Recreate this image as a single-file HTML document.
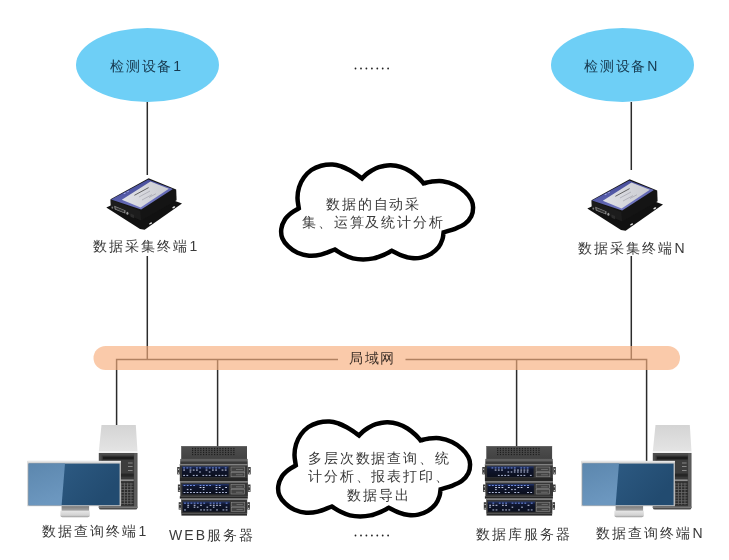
<!DOCTYPE html>
<html><head><meta charset="utf-8">
<style>
html,body{margin:0;padding:0;background:#fff;}
body{width:729px;height:560px;position:relative;overflow:hidden;font-family:"Liberation Sans",sans-serif;}
svg{position:absolute;left:0;top:0;}
.t{position:absolute;font-size:14px;line-height:14px;color:#3a3a3a;letter-spacing:1.6px;white-space:nowrap;will-change:transform;}
.c{letter-spacing:1.85px;}
</style></head>
<body>
<svg width="729" height="560" viewBox="0 0 729 560">
<defs>
<linearGradient id="tgTop" x1="0" y1="0" x2="0.6" y2="1"><stop offset="0" stop-color="#3b4190"/><stop offset="0.5" stop-color="#555ba8"/><stop offset="1" stop-color="#7a80c8"/></linearGradient>
<linearGradient id="tgLbl" x1="0" y1="0" x2="1" y2="0"><stop offset="0" stop-color="#e0e1e6"/><stop offset="1" stop-color="#cacbd1"/></linearGradient>
<linearGradient id="pcTop" x1="0" y1="0" x2="0" y2="1"><stop offset="0" stop-color="#d4d4d4"/><stop offset="1" stop-color="#e4e4e4"/></linearGradient>
<linearGradient id="scrR" x1="0" y1="0" x2="1" y2="0.4"><stop offset="0" stop-color="#31608a"/><stop offset="1" stop-color="#224b70"/></linearGradient>
<linearGradient id="scrL" x1="0" y1="0" x2="0.3" y2="1"><stop offset="0" stop-color="#5c87ae"/><stop offset="1" stop-color="#6c97bf"/></linearGradient>
<linearGradient id="neck" x1="0" y1="0" x2="0" y2="1"><stop offset="0" stop-color="#7a7a7a"/><stop offset="1" stop-color="#a8a8a8"/></linearGradient>
<linearGradient id="base" x1="0" y1="0" x2="0" y2="1"><stop offset="0" stop-color="#e6e6e6"/><stop offset="0.7" stop-color="#d2d2d2"/><stop offset="1" stop-color="#9a9a9a"/></linearGradient>
<linearGradient id="srvTop" x1="0" y1="0" x2="0" y2="1"><stop offset="0" stop-color="#4e4e4e"/><stop offset="1" stop-color="#424242"/></linearGradient>
<linearGradient id="disp" x1="0" y1="0" x2="0" y2="1"><stop offset="0" stop-color="#22356e"/><stop offset="0.25" stop-color="#0f1630"/><stop offset="1" stop-color="#0b0f1c"/></linearGradient>
<g id="vent" fill="#1e1e1e"><rect x="192" y="447.9" width="1.2" height="1.2"/><rect x="194.75" y="447.9" width="1.2" height="1.2"/><rect x="197.5" y="447.9" width="1.2" height="1.2"/><rect x="200.25" y="447.9" width="1.2" height="1.2"/><rect x="203" y="447.9" width="1.2" height="1.2"/><rect x="205.75" y="447.9" width="1.2" height="1.2"/><rect x="208.5" y="447.9" width="1.2" height="1.2"/><rect x="211.25" y="447.9" width="1.2" height="1.2"/><rect x="214" y="447.9" width="1.2" height="1.2"/><rect x="216.75" y="447.9" width="1.2" height="1.2"/><rect x="219.5" y="447.9" width="1.2" height="1.2"/><rect x="222.25" y="447.9" width="1.2" height="1.2"/><rect x="225" y="447.9" width="1.2" height="1.2"/><rect x="227.75" y="447.9" width="1.2" height="1.2"/><rect x="230.5" y="447.9" width="1.2" height="1.2"/><rect x="233.25" y="447.9" width="1.2" height="1.2"/><rect x="192" y="449.8" width="1.2" height="1.2"/><rect x="194.75" y="449.8" width="1.2" height="1.2"/><rect x="197.5" y="449.8" width="1.2" height="1.2"/><rect x="200.25" y="449.8" width="1.2" height="1.2"/><rect x="203" y="449.8" width="1.2" height="1.2"/><rect x="205.75" y="449.8" width="1.2" height="1.2"/><rect x="208.5" y="449.8" width="1.2" height="1.2"/><rect x="211.25" y="449.8" width="1.2" height="1.2"/><rect x="214" y="449.8" width="1.2" height="1.2"/><rect x="216.75" y="449.8" width="1.2" height="1.2"/><rect x="219.5" y="449.8" width="1.2" height="1.2"/><rect x="222.25" y="449.8" width="1.2" height="1.2"/><rect x="225" y="449.8" width="1.2" height="1.2"/><rect x="227.75" y="449.8" width="1.2" height="1.2"/><rect x="230.5" y="449.8" width="1.2" height="1.2"/><rect x="233.25" y="449.8" width="1.2" height="1.2"/><rect x="192" y="451.8" width="1.2" height="1.2"/><rect x="194.75" y="451.8" width="1.2" height="1.2"/><rect x="197.5" y="451.8" width="1.2" height="1.2"/><rect x="200.25" y="451.8" width="1.2" height="1.2"/><rect x="203" y="451.8" width="1.2" height="1.2"/><rect x="205.75" y="451.8" width="1.2" height="1.2"/><rect x="208.5" y="451.8" width="1.2" height="1.2"/><rect x="211.25" y="451.8" width="1.2" height="1.2"/><rect x="214" y="451.8" width="1.2" height="1.2"/><rect x="216.75" y="451.8" width="1.2" height="1.2"/><rect x="219.5" y="451.8" width="1.2" height="1.2"/><rect x="222.25" y="451.8" width="1.2" height="1.2"/><rect x="225" y="451.8" width="1.2" height="1.2"/><rect x="227.75" y="451.8" width="1.2" height="1.2"/><rect x="230.5" y="451.8" width="1.2" height="1.2"/><rect x="233.25" y="451.8" width="1.2" height="1.2"/><rect x="192" y="453.9" width="1.2" height="1.2"/><rect x="194.75" y="453.9" width="1.2" height="1.2"/><rect x="197.5" y="453.9" width="1.2" height="1.2"/><rect x="200.25" y="453.9" width="1.2" height="1.2"/><rect x="203" y="453.9" width="1.2" height="1.2"/><rect x="205.75" y="453.9" width="1.2" height="1.2"/><rect x="208.5" y="453.9" width="1.2" height="1.2"/><rect x="211.25" y="453.9" width="1.2" height="1.2"/><rect x="214" y="453.9" width="1.2" height="1.2"/><rect x="216.75" y="453.9" width="1.2" height="1.2"/><rect x="219.5" y="453.9" width="1.2" height="1.2"/><rect x="222.25" y="453.9" width="1.2" height="1.2"/><rect x="225" y="453.9" width="1.2" height="1.2"/><rect x="227.75" y="453.9" width="1.2" height="1.2"/><rect x="230.5" y="453.9" width="1.2" height="1.2"/><rect x="233.25" y="453.9" width="1.2" height="1.2"/></g>
<g id="term"><polygon points="106.3,207.6 145,190 182,203.4 144.6,229.8 140,229" fill="#111" /><polygon points="110.5,199.2 148.6,178.2 176.2,189.4 176.6,200.2 141.2,220.6 110.9,207.6" fill="#141414" /><polygon points="110.8,199.7 140.2,210.9 141.2,220.6 110.9,207.6" fill="#1c1c1c" /><polygon points="111,199.4 148.2,179.5 172.9,189.1 141.2,209.6" fill="url(#tgTop)" /><polygon points="150.5,181.4 168.9,188.8 140.6,207.4 121.8,199.7" fill="url(#tgLbl)" /><g stroke="#555" stroke-width="0.9"><line x1="134.4" y1="195.3" x2="148.6" y2="187.6"/></g><g stroke="#9a9aa4" stroke-width="0.6"><line x1="139" y1="197" x2="150" y2="191"/><line x1="142" y1="200" x2="152" y2="194.6"/><line x1="149" y1="197.5" x2="156" y2="193.7"/></g><g fill="#b0b6ee"><rect x="123.5" y="193.6" width="2.2" height="0.8" transform="rotate(-28 123.5 193.6)"/><rect x="126.6" y="191.9" width="2.2" height="0.8" transform="rotate(-28 126.6 191.9)"/></g><polygon points="114.2,205.8 125.6,210.4 125.2,213.6 114.8,209.4" fill="#8a8a8a" /><polygon points="115.4,206.9 124.4,210.6 124.1,212.6 115.7,209" fill="#333" /><ellipse cx="127.4" cy="213.2" rx="1" ry="1.5" fill="#9a9a9a"/><ellipse cx="112.3" cy="207.6" rx="0.8" ry="1.2" fill="#777"/><polygon points="130.5,213.6 134,215 134,218.2 130.5,216.8" fill="#2c2c2c" /><ellipse cx="173.8" cy="207.3" rx="1.6" ry="0.8" fill="#e8e8e8" transform="rotate(-28 173.8 207.3)"/><ellipse cx="150.6" cy="223.4" rx="1.6" ry="0.8" fill="#e8e8e8" transform="rotate(-28 150.6 223.4)"/></g>
<g id="pc"><polygon points="101.5,425 135.8,425 137.5,451.6 98.8,451.6" fill="url(#pcTop)" /><rect x="98.8" y="451.4" width="38.7" height="1.8" fill="#f2f2f2"/><path d="M98.8 453.1 H137.5 V507.6 Q137.5 509.6 135.5 509.6 H100.8 Q98.8 509.6 98.8 507.6 Z" fill="#4c4c4c"/><rect x="98.8" y="506.4" width="38.7" height="1.6" fill="#777"/><rect x="101.6" y="455.4" width="32.4" height="50.8" fill="#393939"/><rect x="134.2" y="453.1" width="2.6" height="53" fill="#5e5e5e"/><rect x="102.9" y="456.6" width="30.8" height="2.8" fill="#1c1c1c"/><rect x="102.9" y="460" width="30.8" height="13.5" fill="#3d3d3d"/><g fill="#9a9a9a"><rect x="128" y="462.6" width="4.6" height="0.8"/><rect x="128" y="466" width="4.6" height="0.8"/><rect x="128" y="470" width="4.6" height="0.8"/></g><rect x="102.9" y="473.7" width="30.8" height="2.9" fill="#262626"/><rect x="102.9" y="479.4" width="30.8" height="1.6" fill="#8e8e8e"/><rect x="119.6" y="482.3" width="14.1" height="22.8" fill="#2c2c2c"/><g fill="#686868"><rect x="120.6" y="482.8" width="0.9" height="21.8"/><rect x="123.9" y="482.8" width="0.9" height="21.8"/><rect x="127.2" y="482.8" width="0.9" height="21.8"/><rect x="130.5" y="482.8" width="0.9" height="21.8"/><rect x="120" y="483.6" width="13.4" height="0.8"/><rect x="120" y="486.4" width="13.4" height="0.8"/><rect x="120" y="489.2" width="13.4" height="0.8"/><rect x="120" y="492" width="13.4" height="0.8"/><rect x="120" y="494.8" width="13.4" height="0.8"/><rect x="120" y="497.6" width="13.4" height="0.8"/><rect x="120" y="500.4" width="13.4" height="0.8"/><rect x="120" y="503.2" width="13.4" height="0.8"/></g><rect x="27.4" y="460.9" width="93.5" height="45.3" fill="#c4c4c4"/><rect x="27.4" y="460.9" width="93.5" height="1.6" fill="#e6e6e6"/><rect x="28.6" y="463.6" width="91" height="41.6" fill="url(#scrR)"/><polygon points="28.6,463.6 65,463.6 61.6,505.2 28.6,505.2" fill="url(#scrL)" /><rect x="61.6" y="506.1" width="27.5" height="4.8" fill="url(#neck)"/><path d="M60.4 510.8 H89.8 V515.2 Q89.8 517.2 87.8 517.2 H62.4 Q60.4 517.2 60.4 515.2 Z" fill="url(#base)"/></g>
<path id="cloud" d="M298.8 208.3 C298.37 204.83 297.45 201.43 297.5 197.9 C297.55 194.37 298.03 190.5 299.1 187.1 C300.17 183.7 301.85 180.35 303.9 177.5 C305.95 174.65 308.53 171.97 311.4 170 C314.27 168.03 317.58 166.62 321.1 165.7 C324.62 164.78 329.1 164.37 332.5 164.5 C335.9 164.63 338.63 165.55 341.5 166.5 C344.37 167.45 347.23 168.9 349.7 170.2 C352.17 171.5 354.25 172.92 356.3 174.3 C358.35 175.68 360.1 177.1 362 178.5 C363.93 176.7 365.47 174.82 367.8 173.1 C370.13 171.38 373.47 169.35 376 168.2 C378.53 167.05 380.55 166.68 383 166.2 C385.45 165.72 387.77 165.18 390.7 165.3 C393.63 165.42 397.3 165.87 400.6 166.9 C403.9 167.93 407.48 169.65 410.5 171.5 C413.52 173.35 416.52 176.02 418.7 178 C420.88 179.98 421.97 181.6 423.6 183.4 C426.07 182.83 427.85 182.05 431 181.7 C434.15 181.35 438.5 180.75 442.5 181.3 C446.5 181.85 451.25 183.23 455 185 C458.75 186.77 462.28 189.4 465 191.9 C467.72 194.4 469.95 197.4 471.3 200 C472.65 202.6 473.1 204.78 473.1 207.5 C473.1 210.22 472.65 213.58 471.3 216.3 C469.95 219.02 467.72 221.72 465 223.8 C462.28 225.88 458.57 227.38 455 228.8 C451.43 230.22 447.4 231.13 443.6 232.3 C443.2 234.67 443.23 236.93 442.4 239.4 C441.57 241.87 440.52 244.7 438.6 247.1 C436.68 249.5 433.78 252.05 430.9 253.8 C428.02 255.55 424.5 256.88 421.3 257.6 C418.1 258.32 414.9 258.42 411.7 258.1 C408.5 257.78 405.42 256.92 402.1 255.7 C398.78 254.48 395.23 252.43 391.8 250.8 C389.13 252.13 386.85 253.53 383.8 254.8 C380.75 256.07 376.93 257.62 373.5 258.4 C370.07 259.18 366.63 259.5 363.2 259.5 C359.77 259.5 356.15 259.18 352.9 258.4 C349.65 257.62 346.72 256.28 343.7 254.8 C340.68 253.32 337.77 251.27 334.8 249.5 C330.13 251.2 325.08 253.57 320.8 254.6 C316.52 255.63 312.98 256 309.1 255.7 C305.22 255.4 300.97 254.35 297.5 252.8 C294.03 251.25 290.82 248.82 288.3 246.4 C285.78 243.98 283.57 241.2 282.4 238.3 C281.23 235.4 280.9 232.1 281.3 229 C281.7 225.9 283.07 222.4 284.8 219.7 C286.53 217 289.37 214.7 291.7 212.8 C294.03 210.9 296.43 209.8 298.8 208.3Z" fill="#fff" stroke="#000" stroke-width="4.5" stroke-linejoin="miter"/>
</defs>

<ellipse cx="147.5" cy="65" rx="71.5" ry="37" fill="#6ecff6"/>
<ellipse cx="622.5" cy="65" rx="71.5" ry="37" fill="#6ecff6"/>

<g stroke="#2b2b2b" stroke-width="1.5" fill="none">
<line x1="147.3" y1="102" x2="147.3" y2="175"/>
<line x1="147.3" y1="256" x2="147.3" y2="360"/>
<line x1="631.3" y1="102" x2="631.3" y2="170"/>
<line x1="631.3" y1="256" x2="631.3" y2="360"/>
<polyline points="116.6,425 116.6,359.5 338,359.5"/>
<polyline points="405.5,359.5 646.6,359.5 646.6,462"/>
<line x1="217.6" y1="359.5" x2="217.6" y2="447"/>
<line x1="516.6" y1="359.5" x2="516.6" y2="447"/>
</g>
<rect x="93.5" y="346" width="586.5" height="24" rx="12" ry="12" fill="#f7af7e" fill-opacity="0.66"/>

<use href="#cloud"/>
<use href="#cloud" transform="translate(-3,257)"/>

<use href="#term"/>
<use href="#term" transform="translate(481,1)"/>
<use href="#pc"/>
<use href="#pc" transform="translate(554,0)"/>
<g transform="translate(0,0)"><rect x="181.2" y="446.2" width="65.8" height="12.8" fill="url(#srvTop)"/><rect x="181.2" y="446.2" width="65.8" height="0.8" fill="#636363"/><use href="#vent"/><rect x="180.2" y="458.9" width="67.5" height="2.2" fill="#626262"/><rect x="180.2" y="461.1" width="67.5" height="3.1" fill="#3a3a3a"/><rect x="177.2" y="467" width="2.6" height="7.4" fill="#3a3a3a"/><rect x="248.1" y="467" width="2.6" height="7.4" fill="#3a3a3a"/><rect x="178" y="468.7" width="1.1" height="1.1" fill="#e8e8e8"/><rect x="248.9" y="468.7" width="1.1" height="1.1" fill="#e8e8e8"/><rect x="178" y="472.6" width="1.1" height="1.1" fill="#e8e8e8"/><rect x="248.9" y="472.6" width="1.1" height="1.1" fill="#e8e8e8"/><rect x="179.8" y="464.1" width="68" height="13.9" fill="#363636"/><rect x="179.8" y="464.1" width="68" height="1.3" fill="#888"/><rect x="182" y="466.4" width="46.5" height="10.8" fill="url(#disp)"/><rect x="183.2" y="467.5" width="1.8" height="0.9" fill="#7d9cf5"/><rect x="183.2" y="469.6" width="1.8" height="0.9" fill="#e4eaff"/><rect x="183.2" y="474.9" width="1.8" height="0.9" fill="#c8d2f2"/><rect x="186.4" y="467.5" width="1.8" height="0.9" fill="#7d9cf5"/><rect x="186.4" y="474.9" width="1.8" height="0.9" fill="#c8d2f2"/><rect x="189.6" y="467.5" width="1.8" height="0.9" fill="#7d9cf5"/><rect x="189.6" y="469.6" width="1.8" height="0.9" fill="#e4eaff"/><rect x="189.6" y="471.4" width="1.6" height="1.2" fill="#aab4d0"/><rect x="192.8" y="469.6" width="1.8" height="0.9" fill="#e4eaff"/><rect x="192.8" y="474.9" width="1.8" height="0.9" fill="#c8d2f2"/><rect x="196" y="467.5" width="1.8" height="0.9" fill="#7d9cf5"/><rect x="196" y="469.6" width="1.8" height="0.9" fill="#e4eaff"/><rect x="196" y="474.9" width="1.8" height="0.9" fill="#c8d2f2"/><rect x="199.2" y="467.5" width="1.8" height="0.9" fill="#7d9cf5"/><rect x="199.2" y="471.4" width="1.6" height="1.2" fill="#aab4d0"/><rect x="202.4" y="474.9" width="1.8" height="0.9" fill="#c8d2f2"/><rect x="205.6" y="467.5" width="1.8" height="0.9" fill="#7d9cf5"/><rect x="205.6" y="469.6" width="1.8" height="0.9" fill="#e4eaff"/><rect x="205.6" y="474.9" width="1.8" height="0.9" fill="#c8d2f2"/><rect x="208.8" y="467.5" width="1.8" height="0.9" fill="#7d9cf5"/><rect x="208.8" y="471.4" width="1.6" height="1.2" fill="#aab4d0"/><rect x="208.8" y="474.9" width="1.8" height="0.9" fill="#c8d2f2"/><rect x="212" y="467.5" width="1.8" height="0.9" fill="#7d9cf5"/><rect x="212" y="469.6" width="1.8" height="0.9" fill="#e4eaff"/><rect x="215.2" y="467.5" width="1.8" height="0.9" fill="#7d9cf5"/><rect x="215.2" y="469.6" width="1.8" height="0.9" fill="#e4eaff"/><rect x="215.2" y="474.9" width="1.8" height="0.9" fill="#c8d2f2"/><rect x="218.4" y="467.5" width="1.8" height="0.9" fill="#7d9cf5"/><rect x="218.4" y="474.9" width="1.8" height="0.9" fill="#c8d2f2"/><rect x="221.6" y="469.6" width="1.8" height="0.9" fill="#e4eaff"/><rect x="221.6" y="474.9" width="1.8" height="0.9" fill="#c8d2f2"/><rect x="224.8" y="467.5" width="1.8" height="0.9" fill="#7d9cf5"/><rect x="224.8" y="469.6" width="1.8" height="0.9" fill="#e4eaff"/><rect x="224.8" y="474.9" width="1.8" height="0.9" fill="#c8d2f2"/><rect x="231" y="467" width="13.8" height="4.3" fill="#444" stroke="#999" stroke-width="0.5"/><rect x="236" y="469.15" width="6.8" height="0.6" fill="#888"/><rect x="231" y="472.3" width="13.8" height="4.5" fill="#444" stroke="#999" stroke-width="0.5"/><rect x="236" y="474.55" width="6.8" height="0.6" fill="#888"/><rect x="179.8" y="478" width="68" height="3.3" fill="#262626"/><rect x="177.9" y="484.5" width="2.6" height="7.4" fill="#3a3a3a"/><rect x="247.9" y="484.5" width="2.6" height="7.4" fill="#3a3a3a"/><rect x="178.7" y="486.2" width="1.1" height="1.1" fill="#e8e8e8"/><rect x="248.7" y="486.2" width="1.1" height="1.1" fill="#e8e8e8"/><rect x="178.7" y="490.1" width="1.1" height="1.1" fill="#e8e8e8"/><rect x="248.7" y="490.1" width="1.1" height="1.1" fill="#e8e8e8"/><rect x="180.3" y="481.3" width="67.6" height="14.9" fill="#363636"/><rect x="180.3" y="481.3" width="67.6" height="1.3" fill="#888"/><rect x="182.4" y="483.9" width="46.4" height="10.5" fill="url(#disp)"/><rect x="183.6" y="485" width="1.8" height="0.9" fill="#7d9cf5"/><rect x="183.6" y="492.1" width="1.8" height="0.9" fill="#c8d2f2"/><rect x="186.8" y="485" width="1.8" height="0.9" fill="#7d9cf5"/><rect x="186.8" y="488.9" width="1.6" height="1.2" fill="#aab4d0"/><rect x="186.8" y="492.1" width="1.8" height="0.9" fill="#c8d2f2"/><rect x="190" y="485" width="1.8" height="0.9" fill="#7d9cf5"/><rect x="190" y="488.9" width="1.6" height="1.2" fill="#aab4d0"/><rect x="190" y="492.1" width="1.8" height="0.9" fill="#c8d2f2"/><rect x="193.2" y="485" width="1.8" height="0.9" fill="#7d9cf5"/><rect x="193.2" y="492.1" width="1.8" height="0.9" fill="#c8d2f2"/><rect x="196.4" y="492.1" width="1.8" height="0.9" fill="#c8d2f2"/><rect x="199.6" y="485" width="1.8" height="0.9" fill="#7d9cf5"/><rect x="199.6" y="487.1" width="1.8" height="0.9" fill="#e4eaff"/><rect x="199.6" y="492.1" width="1.8" height="0.9" fill="#c8d2f2"/><rect x="202.8" y="485" width="1.8" height="0.9" fill="#7d9cf5"/><rect x="202.8" y="487.1" width="1.8" height="0.9" fill="#e4eaff"/><rect x="202.8" y="488.9" width="1.6" height="1.2" fill="#aab4d0"/><rect x="202.8" y="492.1" width="1.8" height="0.9" fill="#c8d2f2"/><rect x="206" y="485" width="1.8" height="0.9" fill="#7d9cf5"/><rect x="206" y="492.1" width="1.8" height="0.9" fill="#c8d2f2"/><rect x="209.2" y="485" width="1.8" height="0.9" fill="#7d9cf5"/><rect x="209.2" y="492.1" width="1.8" height="0.9" fill="#c8d2f2"/><rect x="215.6" y="485" width="1.8" height="0.9" fill="#7d9cf5"/><rect x="215.6" y="487.1" width="1.8" height="0.9" fill="#e4eaff"/><rect x="215.6" y="488.9" width="1.6" height="1.2" fill="#aab4d0"/><rect x="215.6" y="492.1" width="1.8" height="0.9" fill="#c8d2f2"/><rect x="218.8" y="485" width="1.8" height="0.9" fill="#7d9cf5"/><rect x="218.8" y="487.1" width="1.8" height="0.9" fill="#e4eaff"/><rect x="218.8" y="492.1" width="1.8" height="0.9" fill="#c8d2f2"/><rect x="222" y="488.9" width="1.6" height="1.2" fill="#aab4d0"/><rect x="222" y="492.1" width="1.8" height="0.9" fill="#c8d2f2"/><rect x="225.2" y="487.1" width="1.8" height="0.9" fill="#e4eaff"/><rect x="225.2" y="492.1" width="1.8" height="0.9" fill="#c8d2f2"/><rect x="231" y="484.5" width="13.6" height="4.15" fill="#444" stroke="#999" stroke-width="0.5"/><rect x="236" y="486.57" width="6.6" height="0.6" fill="#888"/><rect x="231" y="489.65" width="13.6" height="4.35" fill="#444" stroke="#999" stroke-width="0.5"/><rect x="236" y="491.82" width="6.6" height="0.6" fill="#888"/><rect x="179.8" y="496.2" width="68" height="2.4" fill="#262626"/><rect x="178.7" y="502.2" width="2.6" height="7.4" fill="#3a3a3a"/><rect x="247.3" y="502.2" width="2.6" height="7.4" fill="#3a3a3a"/><rect x="179.5" y="503.9" width="1.1" height="1.1" fill="#e8e8e8"/><rect x="248.1" y="503.9" width="1.1" height="1.1" fill="#e8e8e8"/><rect x="179.5" y="507.8" width="1.1" height="1.1" fill="#e8e8e8"/><rect x="248.1" y="507.8" width="1.1" height="1.1" fill="#e8e8e8"/><rect x="181.2" y="498.6" width="66" height="15.2" fill="#363636"/><rect x="181.2" y="498.6" width="66" height="1.3" fill="#888"/><rect x="182.9" y="501.6" width="47" height="10.2" fill="url(#disp)"/><rect x="184.1" y="502.7" width="1.8" height="0.9" fill="#7d9cf5"/><rect x="184.1" y="509.5" width="1.8" height="0.9" fill="#c8d2f2"/><rect x="187.3" y="502.7" width="1.8" height="0.9" fill="#7d9cf5"/><rect x="187.3" y="504.8" width="1.8" height="0.9" fill="#e4eaff"/><rect x="187.3" y="506.6" width="1.6" height="1.2" fill="#aab4d0"/><rect x="190.5" y="502.7" width="1.8" height="0.9" fill="#7d9cf5"/><rect x="193.7" y="502.7" width="1.8" height="0.9" fill="#7d9cf5"/><rect x="193.7" y="504.8" width="1.8" height="0.9" fill="#e4eaff"/><rect x="193.7" y="506.6" width="1.6" height="1.2" fill="#aab4d0"/><rect x="196.9" y="502.7" width="1.8" height="0.9" fill="#7d9cf5"/><rect x="196.9" y="506.6" width="1.6" height="1.2" fill="#aab4d0"/><rect x="200.1" y="502.7" width="1.8" height="0.9" fill="#7d9cf5"/><rect x="200.1" y="504.8" width="1.8" height="0.9" fill="#e4eaff"/><rect x="200.1" y="509.5" width="1.8" height="0.9" fill="#c8d2f2"/><rect x="203.3" y="502.7" width="1.8" height="0.9" fill="#7d9cf5"/><rect x="203.3" y="509.5" width="1.8" height="0.9" fill="#c8d2f2"/><rect x="206.5" y="506.6" width="1.6" height="1.2" fill="#aab4d0"/><rect x="206.5" y="509.5" width="1.8" height="0.9" fill="#c8d2f2"/><rect x="209.7" y="502.7" width="1.8" height="0.9" fill="#7d9cf5"/><rect x="209.7" y="504.8" width="1.8" height="0.9" fill="#e4eaff"/><rect x="209.7" y="509.5" width="1.8" height="0.9" fill="#c8d2f2"/><rect x="212.9" y="502.7" width="1.8" height="0.9" fill="#7d9cf5"/><rect x="212.9" y="504.8" width="1.8" height="0.9" fill="#e4eaff"/><rect x="212.9" y="506.6" width="1.6" height="1.2" fill="#aab4d0"/><rect x="216.1" y="502.7" width="1.8" height="0.9" fill="#7d9cf5"/><rect x="216.1" y="504.8" width="1.8" height="0.9" fill="#e4eaff"/><rect x="216.1" y="509.5" width="1.8" height="0.9" fill="#c8d2f2"/><rect x="219.3" y="502.7" width="1.8" height="0.9" fill="#7d9cf5"/><rect x="219.3" y="504.8" width="1.8" height="0.9" fill="#e4eaff"/><rect x="222.5" y="509.5" width="1.8" height="0.9" fill="#c8d2f2"/><rect x="225.7" y="502.7" width="1.8" height="0.9" fill="#7d9cf5"/><rect x="225.7" y="506.6" width="1.6" height="1.2" fill="#aab4d0"/><rect x="225.7" y="509.5" width="1.8" height="0.9" fill="#c8d2f2"/><rect x="231.5" y="502.2" width="13.3" height="4" fill="#444" stroke="#999" stroke-width="0.5"/><rect x="236.5" y="504.2" width="6.3" height="0.6" fill="#888"/><rect x="231.5" y="507.2" width="13.3" height="4.2" fill="#444" stroke="#999" stroke-width="0.5"/><rect x="236.5" y="509.3" width="6.3" height="0.6" fill="#888"/><rect x="181.4" y="513.8" width="65.6" height="1.8" fill="#2a2a2a"/></g>
<g transform="translate(305.1,0)"><rect x="181.2" y="446.2" width="65.8" height="12.8" fill="url(#srvTop)"/><rect x="181.2" y="446.2" width="65.8" height="0.8" fill="#636363"/><use href="#vent"/><rect x="180.2" y="458.9" width="67.5" height="2.2" fill="#626262"/><rect x="180.2" y="461.1" width="67.5" height="3.1" fill="#3a3a3a"/><rect x="177.2" y="467" width="2.6" height="7.4" fill="#3a3a3a"/><rect x="248.1" y="467" width="2.6" height="7.4" fill="#3a3a3a"/><rect x="178" y="468.7" width="1.1" height="1.1" fill="#e8e8e8"/><rect x="248.9" y="468.7" width="1.1" height="1.1" fill="#e8e8e8"/><rect x="178" y="472.6" width="1.1" height="1.1" fill="#e8e8e8"/><rect x="248.9" y="472.6" width="1.1" height="1.1" fill="#e8e8e8"/><rect x="179.8" y="464.1" width="68" height="13.9" fill="#363636"/><rect x="179.8" y="464.1" width="68" height="1.3" fill="#888"/><rect x="182" y="466.4" width="46.5" height="10.8" fill="url(#disp)"/><rect x="186.4" y="467.5" width="1.8" height="0.9" fill="#7d9cf5"/><rect x="189.6" y="467.5" width="1.8" height="0.9" fill="#7d9cf5"/><rect x="189.6" y="469.6" width="1.8" height="0.9" fill="#e4eaff"/><rect x="192.8" y="467.5" width="1.8" height="0.9" fill="#7d9cf5"/><rect x="192.8" y="469.6" width="1.8" height="0.9" fill="#e4eaff"/><rect x="192.8" y="474.9" width="1.8" height="0.9" fill="#c8d2f2"/><rect x="196" y="467.5" width="1.8" height="0.9" fill="#7d9cf5"/><rect x="196" y="469.6" width="1.8" height="0.9" fill="#e4eaff"/><rect x="196" y="474.9" width="1.8" height="0.9" fill="#c8d2f2"/><rect x="199.2" y="467.5" width="1.8" height="0.9" fill="#7d9cf5"/><rect x="199.2" y="474.9" width="1.8" height="0.9" fill="#c8d2f2"/><rect x="202.4" y="467.5" width="1.8" height="0.9" fill="#7d9cf5"/><rect x="202.4" y="471.4" width="1.6" height="1.2" fill="#aab4d0"/><rect x="202.4" y="474.9" width="1.8" height="0.9" fill="#c8d2f2"/><rect x="205.6" y="467.5" width="1.8" height="0.9" fill="#7d9cf5"/><rect x="205.6" y="471.4" width="1.6" height="1.2" fill="#aab4d0"/><rect x="208.8" y="467.5" width="1.8" height="0.9" fill="#7d9cf5"/><rect x="208.8" y="469.6" width="1.8" height="0.9" fill="#e4eaff"/><rect x="208.8" y="471.4" width="1.6" height="1.2" fill="#aab4d0"/><rect x="212" y="469.6" width="1.8" height="0.9" fill="#e4eaff"/><rect x="212" y="471.4" width="1.6" height="1.2" fill="#aab4d0"/><rect x="212" y="474.9" width="1.8" height="0.9" fill="#c8d2f2"/><rect x="215.2" y="467.5" width="1.8" height="0.9" fill="#7d9cf5"/><rect x="215.2" y="469.6" width="1.8" height="0.9" fill="#e4eaff"/><rect x="215.2" y="471.4" width="1.6" height="1.2" fill="#aab4d0"/><rect x="215.2" y="474.9" width="1.8" height="0.9" fill="#c8d2f2"/><rect x="218.4" y="467.5" width="1.8" height="0.9" fill="#7d9cf5"/><rect x="218.4" y="469.6" width="1.8" height="0.9" fill="#e4eaff"/><rect x="218.4" y="471.4" width="1.6" height="1.2" fill="#aab4d0"/><rect x="218.4" y="474.9" width="1.8" height="0.9" fill="#c8d2f2"/><rect x="221.6" y="467.5" width="1.8" height="0.9" fill="#7d9cf5"/><rect x="221.6" y="469.6" width="1.8" height="0.9" fill="#e4eaff"/><rect x="221.6" y="471.4" width="1.6" height="1.2" fill="#aab4d0"/><rect x="224.8" y="474.9" width="1.8" height="0.9" fill="#c8d2f2"/><rect x="231" y="467" width="13.8" height="4.3" fill="#444" stroke="#999" stroke-width="0.5"/><rect x="236" y="469.15" width="6.8" height="0.6" fill="#888"/><rect x="231" y="472.3" width="13.8" height="4.5" fill="#444" stroke="#999" stroke-width="0.5"/><rect x="236" y="474.55" width="6.8" height="0.6" fill="#888"/><rect x="179.8" y="478" width="68" height="3.3" fill="#262626"/><rect x="177.9" y="484.5" width="2.6" height="7.4" fill="#3a3a3a"/><rect x="247.9" y="484.5" width="2.6" height="7.4" fill="#3a3a3a"/><rect x="178.7" y="486.2" width="1.1" height="1.1" fill="#e8e8e8"/><rect x="248.7" y="486.2" width="1.1" height="1.1" fill="#e8e8e8"/><rect x="178.7" y="490.1" width="1.1" height="1.1" fill="#e8e8e8"/><rect x="248.7" y="490.1" width="1.1" height="1.1" fill="#e8e8e8"/><rect x="180.3" y="481.3" width="67.6" height="14.9" fill="#363636"/><rect x="180.3" y="481.3" width="67.6" height="1.3" fill="#888"/><rect x="182.4" y="483.9" width="46.4" height="10.5" fill="url(#disp)"/><rect x="183.6" y="485" width="1.8" height="0.9" fill="#7d9cf5"/><rect x="183.6" y="492.1" width="1.8" height="0.9" fill="#c8d2f2"/><rect x="186.8" y="485" width="1.8" height="0.9" fill="#7d9cf5"/><rect x="186.8" y="492.1" width="1.8" height="0.9" fill="#c8d2f2"/><rect x="190" y="485" width="1.8" height="0.9" fill="#7d9cf5"/><rect x="190" y="487.1" width="1.8" height="0.9" fill="#e4eaff"/><rect x="190" y="488.9" width="1.6" height="1.2" fill="#aab4d0"/><rect x="190" y="492.1" width="1.8" height="0.9" fill="#c8d2f2"/><rect x="193.2" y="485" width="1.8" height="0.9" fill="#7d9cf5"/><rect x="193.2" y="487.1" width="1.8" height="0.9" fill="#e4eaff"/><rect x="193.2" y="492.1" width="1.8" height="0.9" fill="#c8d2f2"/><rect x="196.4" y="485" width="1.8" height="0.9" fill="#7d9cf5"/><rect x="196.4" y="487.1" width="1.8" height="0.9" fill="#e4eaff"/><rect x="199.6" y="488.9" width="1.6" height="1.2" fill="#aab4d0"/><rect x="199.6" y="492.1" width="1.8" height="0.9" fill="#c8d2f2"/><rect x="202.8" y="485" width="1.8" height="0.9" fill="#7d9cf5"/><rect x="202.8" y="487.1" width="1.8" height="0.9" fill="#e4eaff"/><rect x="202.8" y="492.1" width="1.8" height="0.9" fill="#c8d2f2"/><rect x="206" y="485" width="1.8" height="0.9" fill="#7d9cf5"/><rect x="206" y="488.9" width="1.6" height="1.2" fill="#aab4d0"/><rect x="209.2" y="485" width="1.8" height="0.9" fill="#7d9cf5"/><rect x="209.2" y="488.9" width="1.6" height="1.2" fill="#aab4d0"/><rect x="209.2" y="492.1" width="1.8" height="0.9" fill="#c8d2f2"/><rect x="212.4" y="485" width="1.8" height="0.9" fill="#7d9cf5"/><rect x="212.4" y="487.1" width="1.8" height="0.9" fill="#e4eaff"/><rect x="212.4" y="492.1" width="1.8" height="0.9" fill="#c8d2f2"/><rect x="215.6" y="485" width="1.8" height="0.9" fill="#7d9cf5"/><rect x="215.6" y="487.1" width="1.8" height="0.9" fill="#e4eaff"/><rect x="218.8" y="485" width="1.8" height="0.9" fill="#7d9cf5"/><rect x="222" y="485" width="1.8" height="0.9" fill="#7d9cf5"/><rect x="222" y="487.1" width="1.8" height="0.9" fill="#e4eaff"/><rect x="222" y="492.1" width="1.8" height="0.9" fill="#c8d2f2"/><rect x="225.2" y="492.1" width="1.8" height="0.9" fill="#c8d2f2"/><rect x="231" y="484.5" width="13.6" height="4.15" fill="#444" stroke="#999" stroke-width="0.5"/><rect x="236" y="486.57" width="6.6" height="0.6" fill="#888"/><rect x="231" y="489.65" width="13.6" height="4.35" fill="#444" stroke="#999" stroke-width="0.5"/><rect x="236" y="491.82" width="6.6" height="0.6" fill="#888"/><rect x="179.8" y="496.2" width="68" height="2.4" fill="#262626"/><rect x="178.7" y="502.2" width="2.6" height="7.4" fill="#3a3a3a"/><rect x="247.3" y="502.2" width="2.6" height="7.4" fill="#3a3a3a"/><rect x="179.5" y="503.9" width="1.1" height="1.1" fill="#e8e8e8"/><rect x="248.1" y="503.9" width="1.1" height="1.1" fill="#e8e8e8"/><rect x="179.5" y="507.8" width="1.1" height="1.1" fill="#e8e8e8"/><rect x="248.1" y="507.8" width="1.1" height="1.1" fill="#e8e8e8"/><rect x="181.2" y="498.6" width="66" height="15.2" fill="#363636"/><rect x="181.2" y="498.6" width="66" height="1.3" fill="#888"/><rect x="182.9" y="501.6" width="47" height="10.2" fill="url(#disp)"/><rect x="184.1" y="504.8" width="1.8" height="0.9" fill="#e4eaff"/><rect x="184.1" y="506.6" width="1.6" height="1.2" fill="#aab4d0"/><rect x="187.3" y="502.7" width="1.8" height="0.9" fill="#7d9cf5"/><rect x="187.3" y="504.8" width="1.8" height="0.9" fill="#e4eaff"/><rect x="187.3" y="509.5" width="1.8" height="0.9" fill="#c8d2f2"/><rect x="190.5" y="504.8" width="1.8" height="0.9" fill="#e4eaff"/><rect x="190.5" y="509.5" width="1.8" height="0.9" fill="#c8d2f2"/><rect x="193.7" y="502.7" width="1.8" height="0.9" fill="#7d9cf5"/><rect x="196.9" y="502.7" width="1.8" height="0.9" fill="#7d9cf5"/><rect x="196.9" y="504.8" width="1.8" height="0.9" fill="#e4eaff"/><rect x="196.9" y="509.5" width="1.8" height="0.9" fill="#c8d2f2"/><rect x="200.1" y="502.7" width="1.8" height="0.9" fill="#7d9cf5"/><rect x="200.1" y="504.8" width="1.8" height="0.9" fill="#e4eaff"/><rect x="200.1" y="509.5" width="1.8" height="0.9" fill="#c8d2f2"/><rect x="203.3" y="509.5" width="1.8" height="0.9" fill="#c8d2f2"/><rect x="206.5" y="502.7" width="1.8" height="0.9" fill="#7d9cf5"/><rect x="206.5" y="506.6" width="1.6" height="1.2" fill="#aab4d0"/><rect x="209.7" y="502.7" width="1.8" height="0.9" fill="#7d9cf5"/><rect x="212.9" y="502.7" width="1.8" height="0.9" fill="#7d9cf5"/><rect x="212.9" y="509.5" width="1.8" height="0.9" fill="#c8d2f2"/><rect x="216.1" y="502.7" width="1.8" height="0.9" fill="#7d9cf5"/><rect x="216.1" y="506.6" width="1.6" height="1.2" fill="#aab4d0"/><rect x="219.3" y="502.7" width="1.8" height="0.9" fill="#7d9cf5"/><rect x="222.5" y="504.8" width="1.8" height="0.9" fill="#e4eaff"/><rect x="222.5" y="509.5" width="1.8" height="0.9" fill="#c8d2f2"/><rect x="225.7" y="502.7" width="1.8" height="0.9" fill="#7d9cf5"/><rect x="225.7" y="509.5" width="1.8" height="0.9" fill="#c8d2f2"/><rect x="231.5" y="502.2" width="13.3" height="4" fill="#444" stroke="#999" stroke-width="0.5"/><rect x="236.5" y="504.2" width="6.3" height="0.6" fill="#888"/><rect x="231.5" y="507.2" width="13.3" height="4.2" fill="#444" stroke="#999" stroke-width="0.5"/><rect x="236.5" y="509.3" width="6.3" height="0.6" fill="#888"/><rect x="181.4" y="513.8" width="65.6" height="1.8" fill="#2a2a2a"/></g>

<g fill="#222">
<circle cx="355.5" cy="68.5" r="0.9"/><circle cx="355.5" cy="535.5" r="0.9"/><circle cx="361" cy="68.5" r="0.9"/><circle cx="361" cy="535.5" r="0.9"/><circle cx="366.4" cy="68.5" r="0.9"/><circle cx="366.4" cy="535.5" r="0.9"/><circle cx="371.9" cy="68.5" r="0.9"/><circle cx="371.9" cy="535.5" r="0.9"/><circle cx="377.3" cy="68.5" r="0.9"/><circle cx="377.3" cy="535.5" r="0.9"/><circle cx="382.7" cy="68.5" r="0.9"/><circle cx="382.7" cy="535.5" r="0.9"/><circle cx="388.1" cy="68.5" r="0.9"/><circle cx="388.1" cy="535.5" r="0.9"/>
</g>
</svg>
<div class="t" style="left:110px;top:58.5px;letter-spacing:1.8px;color:#173a50">检测设备1</div>
<div class="t" style="left:584px;top:58.5px;letter-spacing:1.8px;color:#173a50">检测设备N</div>
<div class="t" style="left:92.5px;top:238.5px;letter-spacing:2.1px">数据采集终端1</div>
<div class="t" style="left:577.5px;top:240.5px;letter-spacing:2.1px">数据采集终端N</div>
<div class="t c" style="left:326px;top:196.5px">数据的自动采</div>
<div class="t c" style="left:302px;top:215px">集、运算及统计分析</div>
<div class="t" style="left:349px;top:350.5px;letter-spacing:1.6px;color:#3e3028">局域网</div>
<div class="t c" style="left:307.5px;top:451px">多层次数据查询、统</div>
<div class="t c" style="left:307.5px;top:468.5px">计分析、报表打印、</div>
<div class="t c" style="left:346.5px;top:487.5px">数据导出</div>
<div class="t" style="left:41.5px;top:524px;letter-spacing:2.1px">数据查询终端1</div>
<div class="t" style="left:169px;top:527.8px;letter-spacing:2.1px">WEB服务器</div>
<div class="t" style="left:476px;top:527px;letter-spacing:2.1px">数据库服务器</div>
<div class="t" style="left:596px;top:526px;letter-spacing:2.1px">数据查询终端N</div>
</body></html>
